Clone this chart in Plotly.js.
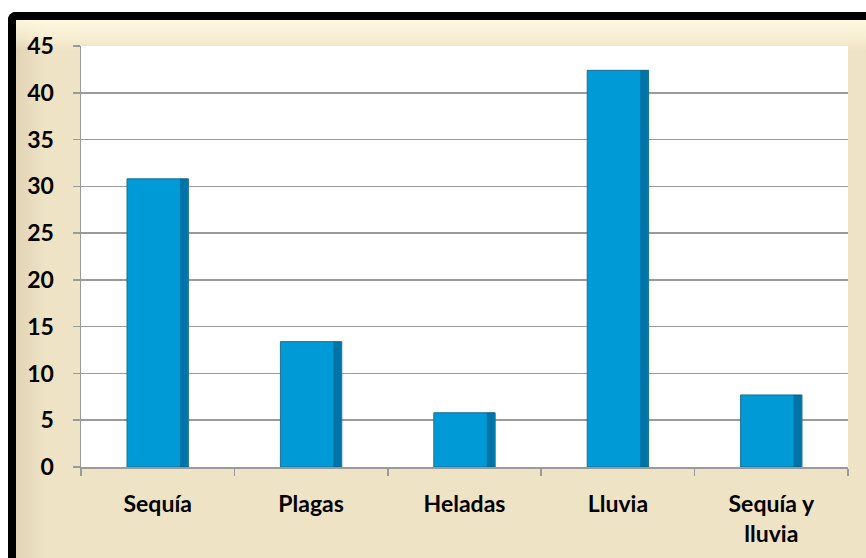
<!DOCTYPE html>
<html>
<head>
<meta charset="utf-8">
<script src="https://cdn.plot.ly/plotly-3.0.1.min.js"></script>
<style>
  html, body { margin:0; padding:0; width:866px; height:558px; overflow:hidden; background:#ffffff; }
  #frame {
    position:absolute; left:8px; top:12px; width:870px; height:560px;
    border-left:8px solid #000; border-top:8px solid #000; border-top-left-radius:8px;
    background:
      linear-gradient(to bottom, rgba(255,250,225,0.9) 0px, rgba(255,248,222,0.5) 18px, rgba(255,255,255,0) 30px),
      linear-gradient(to top, rgba(120,110,90,0.45) 0px, rgba(120,110,90,0.15) 14px, rgba(255,255,255,0) 22px),
      linear-gradient(to right, rgba(200,185,150,0.35) 0px, rgba(255,255,255,0) 30px),
      #efe3c6;
  }
  #chart { position:absolute; left:0; top:0; width:866px; height:558px; }
</style>
</head>
<body>
<div id="frame"></div>
<div id="chart"></div>
<script>
const categories = ["Sequía", "Plagas", "Heladas", "Lluvia", "Sequía y<br>lluvia"];
const values = [30.8, 13.4, 5.8, 42.4, 7.7];
const yTicks = [0, 5, 10, 15, 20, 25, 30, 35, 40, 45];

const bars = {
  type: 'bar', x: categories, y: values, width: 0.4,
  marker: { color: '#009ad6', line: { color: '#1a6f95', width: 1 } },
  hoverinfo: 'x+y'
};
const shade = {
  type: 'bar', x: categories, y: values, width: 0.05, offset: 0.145,
  marker: { color: 'rgba(0,60,95,0.4)', line: { width: 0 } },
  hoverinfo: 'skip'
};

const layout = {
  width: 866, height: 558,
  margin: { l: 81, r: 18, t: 46, b: 91 },
  paper_bgcolor: 'rgba(0,0,0,0)',
  plot_bgcolor: '#ffffff',
  showlegend: false,
  barmode: 'overlay',
  font: { family: 'Lato, "Open Sans", sans-serif', color: '#000' },
  xaxis: {
    type: 'category', tickson: 'boundaries', ticks: 'outside', ticklen: 7, tickwidth: 1.5,
    tickcolor: '#9a9a9a', showline: true, linecolor: '#9a9a9a', linewidth: 1.5,
    showgrid: false, ticklabelstandoff: 16,
    tickfont: { family: 'Lato, "Open Sans", sans-serif', size: 23, weight: 'bold', color: '#000' }
  },
  yaxis: {
    range: [0, 45], tickvals: yTicks, ticks: 'outside', ticklen: 7, tickwidth: 1.5,
    tickcolor: '#9a9a9a', showline: true, linecolor: '#9a9a9a', linewidth: 1.5,
    showgrid: true, gridcolor: '#9a9a9a', gridwidth: 1.5, zeroline: false,
    ticklabelstandoff: 14,
    tickfont: { family: 'Lato, "Open Sans", sans-serif', size: 23, weight: 'bold', color: '#000' }
  }
};
Plotly.newPlot('chart', [bars, shade], layout, { displayModeBar: false, staticPlot: true });
</script>
</body>
</html>
